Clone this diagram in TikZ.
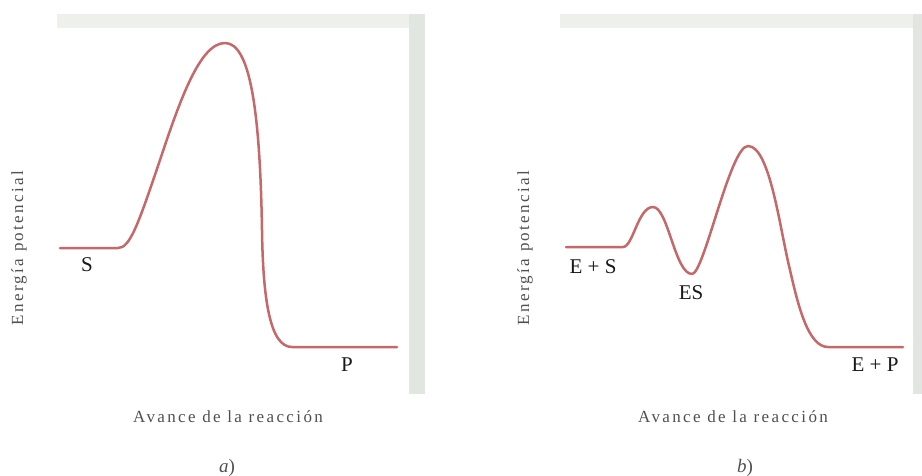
\documentclass[tikz,border=0pt]{standalone}
\usepackage{fontspec}
\setmainfont{Liberation Serif}
\definecolor{curvecol}{RGB}{196,104,106}
\definecolor{bandtop}{RGB}{238,240,236}
\definecolor{bandside}{RGB}{226,230,224}
\definecolor{axiscol}{RGB}{80,80,80}
\definecolor{labcol}{RGB}{25,25,25}
\tikzset{
  curve/.style={draw=curvecol, line width=2.5pt, line cap=round, line join=round},
  lab/.style={text=labcol, inner sep=0pt, font=\fontsize{21}{24}\selectfont},
  axislab/.style={text=axiscol, inner sep=0pt, font=\fontsize{17}{20}\selectfont\addfontfeature{LetterSpace=14}},
  ylab/.style={axislab, rotate=90},
  panellab/.style={text=axiscol, inner sep=0pt, font=\fontsize{19}{22}\selectfont}
}
\begin{document}
\begin{tikzpicture}[x=1pt,y=-1pt]
\useasboundingbox (0,0) rectangle (922,475);
\fill[white] (0,0) rectangle (922,475);
% panel a frame bands
\fill[bandtop] (57,14) rectangle (425,28);
\fill[bandside] (409,14) rectangle (425,394);
% panel b frame bands
\fill[bandtop] (560,14) rectangle (922,28);
\fill[bandside] (913,14) rectangle (922,394);
% curve a
\draw[curve] (60,248) -- (118,248)
  .. controls (130,248) and (138,225) .. (160,160)
  .. controls (180,100) and (200,43) .. (225,43)
  .. controls (250,43) and (260,110) .. (262,230)
  .. controls (263,300) and (270,347) .. (292,347)
  -- (397,347);
% curve b
\draw[curve] (566,247) -- (623,247)
  .. controls (633,247) and (638,207) .. (653,207)
  .. controls (668,207) and (675,274) .. (692,274)
  .. controls (704,274) and (730,146) .. (748,146)
  .. controls (770,146) and (780,230) .. (790,270)
  .. controls (798,305) and (808,347) .. (828,347)
  -- (903,347);
% labels a
\node[lab] (S) at (87,265) {S};
\node[lab] (P) at (347,365) {P};
\node[ylab] (ya) at (19,248) {Energía potencial};
\node[axislab] (xa) at (228,417) {Avance de la reacción};
\node[panellab] (pa) at (227,468) {\textit{a})};
% labels b
\node[lab] (ES0) at (593,267) {E + S};
\node[lab] (ES) at (691,293) {ES};
\node[lab] (EP) at (875,365) {E + P};
\node[ylab] (yb) at (525,248) {Energía potencial};
\node[axislab] (xb) at (733,417) {Avance de la reacción};
\node[panellab] (pb) at (745,468) {\textit{b})};
\end{tikzpicture}
\end{document}
